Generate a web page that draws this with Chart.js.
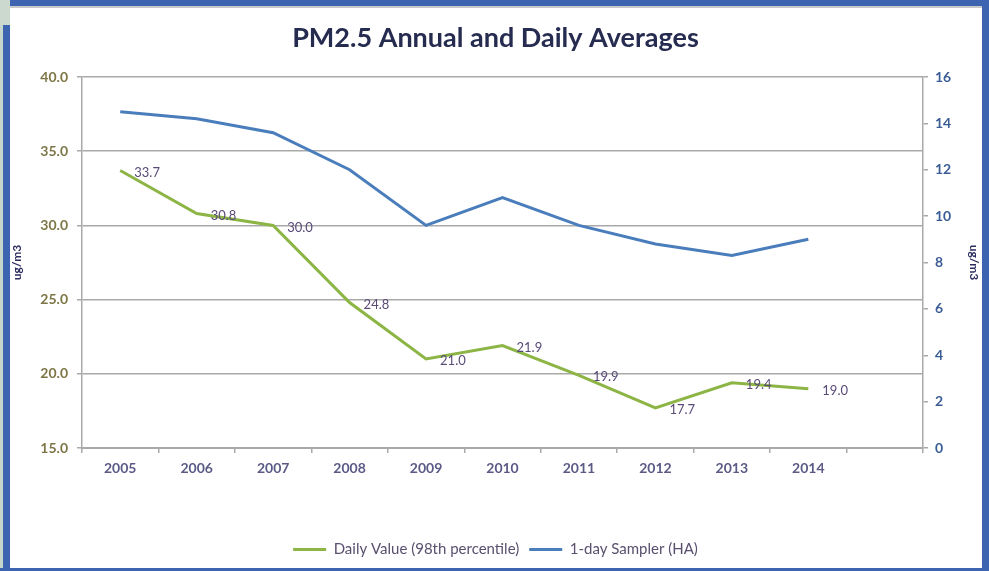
<!DOCTYPE html>
<html>
<head>
  <meta charset="utf-8" />
  <script src="https://cdn.jsdelivr.net/npm/chart.js@4.4.1/dist/chart.umd.min.js"></script>
  <style>
    body { margin:0; background:#fff; width:989px; height:571px; overflow:hidden; position:relative; font-family:Lato, sans-serif; }
    #holder { position:absolute; left:0; top:0; width:989px; height:571px; }
    .fr { position:absolute; background:#3c64b1; }
    #pale { position:absolute; left:0; top:0; width:3px; height:571px; background:#c7d6cc; }
    #paleTop { position:absolute; left:0; top:0; width:10px; height:25px; background:#cbd9cf; }
    #topLine { position:absolute; left:10px; top:6px; width:972px; height:2px; background:#c8c8c8; }
  </style>
</head>
<body>
<div id="holder"><canvas id="pmChart"></canvas></div>
<div id="pale"></div>
<div class="fr" style="left:3px;top:0;width:7px;height:571px"></div>
<div class="fr" style="left:0;top:0;width:989px;height:6px"></div>
<div class="fr" style="left:982px;top:0;width:7px;height:571px"></div>
<div class="fr" style="left:0;top:568px;width:989px;height:3px"></div>
<div id="paleTop"></div>
<div id="topLine"></div>

<script>
const years = ['2005','2006','2007','2008','2009','2010','2011','2012','2013','2014',''];
const dailyValue = [33.7, 30.8, 30.0, 24.8, 21.0, 21.9, 19.9, 17.7, 19.4, 19.0];
const sampler = [14.5, 14.2, 13.6, 12.0, 9.6, 10.8, 9.6, 8.8, 8.3, 9.0];

const GRID = '#a9a9a9';

// value labels to the right of the green line points
const pointLabels = {
  id: 'pointLabels',
  afterDatasetsDraw(chart) {
    const ctx = chart.ctx;
    const meta = chart.getDatasetMeta(0);
    ctx.save();
    ctx.font = '13px Lato';
    ctx.fillStyle = '#5a4a78';
    ctx.textAlign = 'left';
    ctx.textBaseline = 'middle';
    meta.data.forEach((pt, i) => {
      if (dailyValue[i] == null) return;
      ctx.fillText(dailyValue[i].toFixed(1), pt.x + 14, pt.y + 2);
    });
    ctx.restore();
  }
};

new Chart(document.getElementById('pmChart'), {
  type: 'line',
  data: {
    labels: years,
    datasets: [
      { label: 'Daily Value (98th percentile)', data: dailyValue, yAxisID: 'y',
        borderColor: '#8cb545', backgroundColor: '#8cb545', borderWidth: 3,
        pointRadius: 0, tension: 0 },
      { label: '1-day Sampler (HA)', data: sampler, yAxisID: 'y2',
        borderColor: '#4a7dbb', backgroundColor: '#4a7dbb', borderWidth: 3,
        pointRadius: 0, tension: 0 }
    ]
  },
  options: {
    responsive: true, maintainAspectRatio: false, animation: false,
    layout: { padding: { left: 10, right: 8, top: 8, bottom: 4 } },
    plugins: {
      title: { display: true, text: 'PM2.5 Annual and Daily Averages',
        color: '#262b50', font: { family: 'Lato', size: 27, weight: 'bold' },
        padding: { top: 13.8, bottom: 22.8 } },
      legend: { position: 'bottom',
        labels: { usePointStyle: true, pointStyle: 'line', pointStyleWidth: 33,
          color: '#5a4f6e', font: { family: 'Lato', size: 15 }, padding: 10 } },
      tooltip: { enabled: false }
    },
    scales: {
      x: {
        offset: true,
        grid: { offset: true, drawOnChartArea: false, drawTicks: true, tickLength: 5, color: GRID, lineWidth: 1.5 },
        border: { color: GRID, width: 2 },
        ticks: { color: '#5b5a86', font: { family: 'Lato', size: 14, weight: 'bold' }, padding: 7, maxRotation: 0, autoSkip: false },
        afterFit: s => { s.height = 84; }
      },
      y: {
        position: 'left', min: 15, max: 40,
        grid: { color: GRID, lineWidth: 1.5, tickLength: 5 },
        border: { color: GRID, width: 1.5 },
        ticks: { stepSize: 5, color: '#7d7646', font: { family: 'Lato', size: 14, weight: 'bold' }, padding: 9,
          callback: v => v.toFixed(1) },
        title: { display: true, text: 'ug/m3', color: '#2b2d5e', font: { family: 'Lato', size: 12, weight: 'bold' }, padding: 0 },
        afterFit: s => { s.width = 72; }
      },
      y2: {
        position: 'right', min: 0, max: 16,
        grid: { drawOnChartArea: false, color: GRID, lineWidth: 1.5, tickLength: 5 },
        border: { color: GRID, width: 1.5 },
        ticks: { stepSize: 2, color: '#3b5d95', font: { family: 'Lato', size: 14, weight: 'bold' }, padding: 7 },
        title: { display: true, text: 'ug/m3', color: '#2b2d5e', font: { family: 'Lato', size: 12, weight: 'bold' }, padding: 0 },
        afterFit: s => { s.width = 58; }
      }
    }
  },
  plugins: [pointLabels]
});
</script>
</body>
</html>
